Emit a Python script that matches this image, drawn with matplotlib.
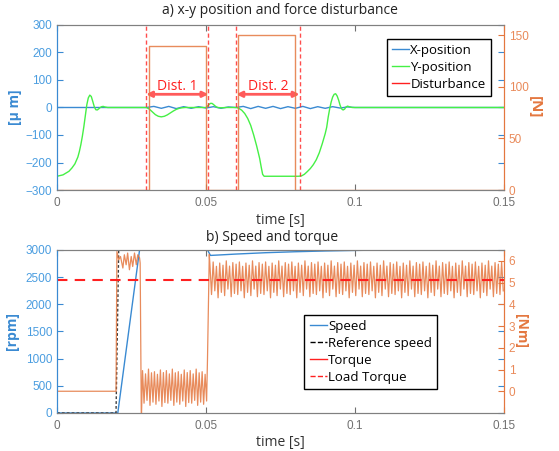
import numpy as np
import matplotlib.pyplot as plt
from matplotlib.lines import Line2D

plt.rcParams['font.family'] = ['Open Sans', 'DejaVu Sans']

BLUE = '#3a8ad2'
BLUE_TXT = '#4a9de0'
ORANGE = '#e4773f'
ORANGE_TXT = '#e98a5a'
GREEN = '#45f045'
RED = '#ff2020'
GRAY = '#707070'

# ---- a) position and force disturbance ----
y_t = [0, .002, .004, .005, .006, .007, .0075, .008, .0085, .009, .0095, .010, .0105, .011,
       .0115, .012, .0125, .013, .0135, .014, .0145, .015, .0155, .016, .017, .018,
       .030, .031, .032, .033, .034, .035, .036, .037, .038, .039, .040, .041, .042, .043, .045,
       .050, .0505, .051, .0515, .052, .0525, .053, .0535, .054, .055, .057,
       .0602, .061, .062, .063, .064, .065, .066, .067, .068, .0685, .069, .0695,
       .081, .082, .083, .084, .085, .086, .087, .088, .089, .090, .0905, .091, .0915, .092,
       .0925, .093, .0935, .094, .0945, .095, .0955, .096, .0965, .097, .0975, .098, .099, .15]
y_pos = [-250, -245, -232, -220, -205, -180, -160, -135, -105, -70, -30, 10, 35, 45,
         40, 22, 3, -8, -9, -5, 0, 3, 4, 2, 0, 0,
         0, -6, -16, -26, -32, -34, -32, -27, -20, -13, -7, -3, -1, 0, 0,
         0, 5, 11, 15, 15, 11, 6, 2, 0, -1, 0,
         0, -3, -10, -22, -40, -65, -100, -140, -185, -215, -243, -250,
         -250, -249, -243, -233, -222, -208, -190, -165, -132, -95, -72, -35, -5, 20,
         38, 48, 50, 42, 27, 8, -5, -9, -6, 2, 5, 3, 0, 0]

x_t = [0, .03, .0325, .035, .0375, .04, .0425, .045, .0475, .05, .0525, .055, .0575, .06,
       .0625, .065, .0675, .07, .0725, .075, .0775, .08, .0825, .085, .0875, .09, .0925,
       .095, .0975, .1, .15]
x_pos = [0, 0, 4, -3, 4, -4, 3, -3, 3, -2, 3, -3, 2, 0,
         4, -4, 4, -3, 4, -4, 3, -3, 4, -4, 3, -3, 3,
         -2, 2, 0, 0]

dist_t = [0, .0309, .0309, .0501, .0501, .0609, .0609, .0797, .0797, .15]
dist_f = [0, 0, 140, 140, 0, 0, 150, 150, 0, 0]

dist_marks = [.0299, .0508, .0602, .0814]

# ---- b) speed and torque ----
spd_t = [0, .0204, .0277, .0505, .0515, .055, .06, .07, .08, .09, .10, .11, .15]
spd = [0, 0, 3000, 3000, 2900, 2910, 2925, 2950, 2968, 2982, 2992, 3000, 3000]

ref_t = [0, .0198, .0207, .15]
ref_spd = [0, 0, 3000, 3000]

trq_start_t = [0, .0198, .0201, .0207, .0213, .0221, .0226, .0232, .0237, .0243, .0249,
               .0254, .026, .0266, .0271, .0277, .0279, .0283]
trq_start = [0, 0, 6.43, 6.05, 6.2, 5.67, 6.28, 5.82, 6.36, 5.59, 6.2,
             5.74, 6.36, 5.82, 6.28, 6.14, 5.9, -1.4]
low_hi = [0.95, 0.8, 1.02, 0.85, 0.9, 0.78, 0.98, 0.86]
low_lo = [-0.55, -0.42, -0.65, -0.5, -0.6, -0.45, -0.7, -0.52]
high_hi = [5.85, 5.95, 5.75, 5.9, 5.8, 6.0, 5.76, 5.92]
high_lo = [4.45, 4.62, 4.3, 4.55, 4.4, 4.7, 4.35, 4.5]
load_torque = 5.13


def ripple(t0, t1, period, hi, lo):
    # triangle-shaped ripple using the listed peak/trough levels in turn
    n = int(round((t1 - t0) / period))
    ts, vs = [], []
    for i in range(n):
        ts += [t0 + i * period, t0 + (i + 0.5) * period]
        vs += [hi[i % len(hi)], lo[i % len(lo)]]
    return ts, vs


r1_t, r1 = ripple(.0287, .0502, .001, low_hi, low_lo)
r2_t, r2 = ripple(.0513, .15, .0011, high_hi, high_lo)
trq_t = trq_start_t + r1_t + [.0505, .0511] + r2_t
trq = trq_start + r1 + [1.5, 6.3] + r2


def style_axes(ax, ax2, lcol, rcol):
    ax.set_xlim(0, 0.15)
    ax.set_xticks([0, 0.05, 0.1, 0.15])
    ax.set_xticklabels(['0', '0.05', '0.1', '0.15'])
    ax.tick_params(axis='x', direction='in', top=True, length=4, color=GRAY,
                   labelcolor=GRAY, labelsize=8.5, pad=5)
    ax.tick_params(axis='y', direction='in', right=True, length=4, color=lcol,
                   labelcolor=BLUE_TXT, labelsize=8.5)
    ax2.tick_params(axis='y', direction='in', length=4, color=rcol,
                    labelcolor=ORANGE_TXT, labelsize=8.5)
    for a in (ax, ax2):
        a.spines['top'].set_color('#808080')
        a.spines['bottom'].set_color('#808080')
        a.spines['left'].set_color(lcol)
        a.spines['right'].set_color(rcol)
    for lab in ax.get_xticklabels() + ax.get_yticklabels() + ax2.get_yticklabels():
        lab.set_family(['Liberation Sans', 'DejaVu Sans'])


fig = plt.figure(figsize=(5.59, 4.51), dpi=100)

ax = fig.add_axes([0.102, 0.5787, 0.7996, 0.3659])
ax2 = ax.twinx()
ax.plot(x_t, x_pos, color=BLUE, lw=1)
ax.plot(y_t, y_pos, color=GREEN, lw=1)
ax2.plot(dist_t, dist_f, color=ORANGE, lw=1, alpha=0.85)
for tm in dist_marks:
    ax.axvline(tm, color=RED, lw=1, ls=(0, (3, 2)), alpha=0.8)
for (a, b), lab in zip([(dist_marks[0], dist_marks[1]), (dist_marks[2], dist_marks[3])],
                       ['Dist. 1', 'Dist. 2']):
    ax.annotate('', xy=(a, 48), xytext=(b, 48),
                arrowprops=dict(arrowstyle='<|-|>', color='#ff5a5a', lw=2,
                                mutation_scale=8, shrinkA=0, shrinkB=0))
    ax.text((a + b) / 2, 75, lab, color=RED, fontsize=10, ha='center', va='center')
ax.set_ylim(-300, 300)
ax.set_yticks(range(-300, 301, 100))
ax2.set_ylim(0, 160)
ax2.set_yticks([0, 50, 100, 150])
style_axes(ax, ax2, BLUE, ORANGE)
ax.set_ylabel('[μ m]', color=BLUE, fontsize=10, fontweight='bold')
ax.yaxis.set_label_coords(-0.079, 0.5)
ax2.set_ylabel('[N]', color=ORANGE, fontsize=11, fontweight='bold', rotation=-90)
ax2.yaxis.set_label_coords(1.084, 0.5)
ax.set_xlabel('time [s]', fontsize=10, color='#333333', labelpad=3)
fig.text(0.5, 0.977, 'a) x-y position and force disturbance', ha='center', va='center',
         fontsize=10, color='#222222')
h1 = [Line2D([], [], color=BLUE, lw=1), Line2D([], [], color=GREEN, lw=1),
      Line2D([], [], color=RED, lw=1)]
leg = ax2.legend(h1, ['X-position', 'Y-position', 'Disturbance'], loc='upper left',
                 bbox_to_anchor=(0.7226, 0.9576), fontsize=9.5, handlelength=1.3,
                 handletextpad=0.1, labelspacing=0.3, borderpad=0.4,
                 fancybox=False, framealpha=1, edgecolor='black')
leg.get_frame().set_linewidth(1)

ax3 = fig.add_axes([0.102, 0.0843, 0.7996, 0.3614])
ax4 = ax3.twinx()
ax3.plot(spd_t, spd, color=BLUE, lw=1)
ax3.plot(ref_t, ref_spd, color='#404040', lw=1, ls=(0, (2, 1.5)))
ax4.plot(trq_t, trq, color=ORANGE, lw=0.9, alpha=0.85)
ax4.axhline(load_torque, color=RED, lw=1.5, ls=(0, (5, 3.5)))
ax3.set_ylim(0, 3000)
ax3.set_yticks(range(0, 3001, 500))
ax4.set_ylim(-1, 6.5)
ax4.set_yticks(range(0, 7))
style_axes(ax3, ax4, BLUE, ORANGE)
ax3.set_ylabel('[rpm]', color=BLUE, fontsize=10, fontweight='bold')
ax3.yaxis.set_label_coords(-0.084, 0.5)
ax4.set_ylabel('[Nm]', color=ORANGE, fontsize=10, fontweight='bold', rotation=-90)
ax4.yaxis.set_label_coords(1.054, 0.5)
ax3.set_xlabel('time [s]', fontsize=10, color='#333333', labelpad=2)
fig.text(0.487, 0.4745, 'b) Speed and torque', ha='center', va='center',
         fontsize=10, color='#222222')
h2 = [Line2D([], [], color=BLUE, lw=1), Line2D([], [], color='black', lw=1, ls='--'),
      Line2D([], [], color=RED, lw=1), Line2D([], [], color=RED, lw=1, ls='--')]
leg2 = ax4.legend(h2, ['Speed', 'Reference speed', 'Torque', 'Load Torque'],
                  loc='upper left', bbox_to_anchor=(0.5385, 0.644), fontsize=9.5,
                  handlelength=1.3, handletextpad=0.1, labelspacing=0.3, borderpad=0.4,
                  fancybox=False, framealpha=1, edgecolor='black')
leg2.get_frame().set_linewidth(1)

fig.savefig('out.png', dpi=100)
